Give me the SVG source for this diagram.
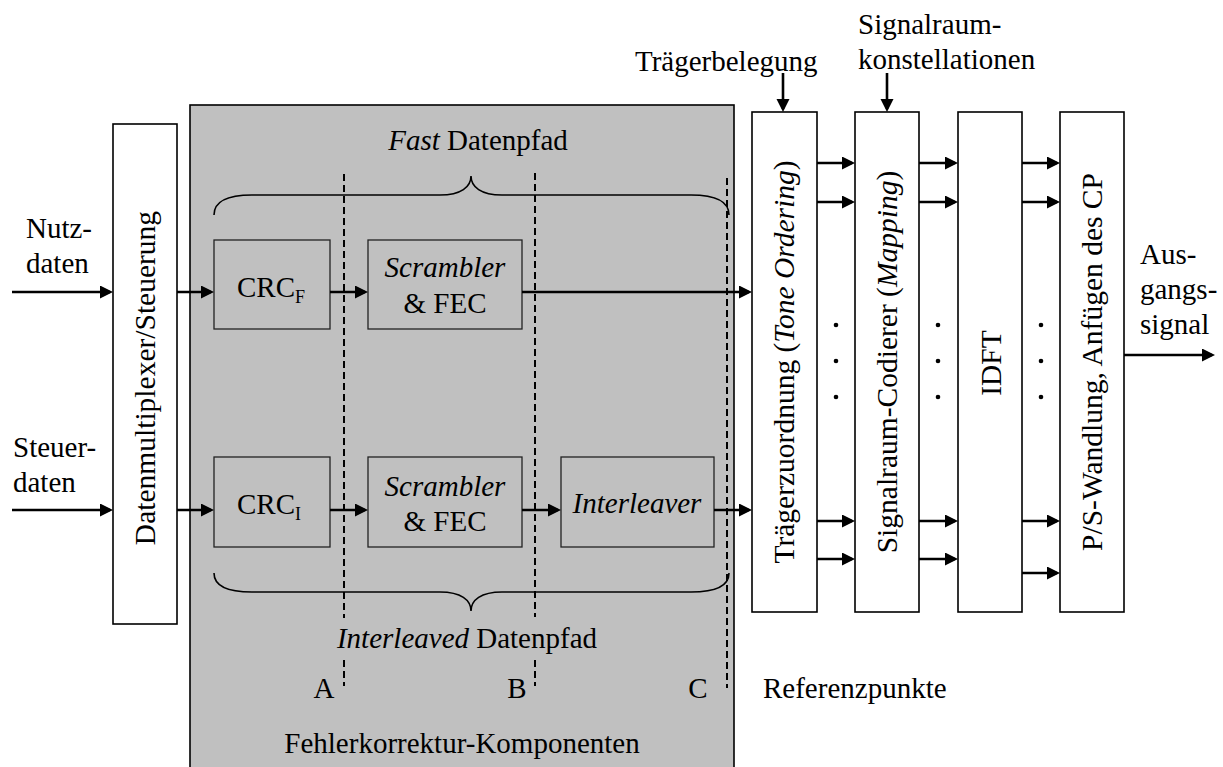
<svg xmlns="http://www.w3.org/2000/svg" width="1223" height="767" viewBox="0 0 1223 767" font-family="Liberation Serif, serif">
  <style>
    text { font-family: "Liberation Serif", serif !important; font-size: 29px; fill: #000; }
    .rot { font-size: 29.5px; text-anchor: middle; }
    .mid { text-anchor: middle; }
    .it { font-style: italic; }
    .sub { font-size: 18px; }
    .box { fill: #fff; stroke: #000; stroke-width: 1.6; }
    .gbox { fill: #c0c0c0; stroke: #222; stroke-width: 1.3; }
    .flow { fill: none; stroke: #000; stroke-width: 2.6; marker-end: url(#arrow); }
    .dash { fill: none; stroke: #000; stroke-width: 2; stroke-dasharray: 7 4; }
    .brace { fill: none; stroke: #000; stroke-width: 1.6; }
  </style>
  <defs>
    <marker id="arrow" markerUnits="userSpaceOnUse" markerWidth="14" markerHeight="14" refX="10" refY="6.5" orient="auto">
      <path d="M0,0 L13,6.5 L0,13 z" fill="#000"/>
    </marker>
  </defs>

  <rect width="1223" height="767" fill="#fff"/>

  <!-- error-correction area -->
  <g id="fec-area">
    <rect x="190" y="105" width="544" height="680" fill="#c0c0c0" stroke="#000" stroke-width="1.6"/>
    <text x="462" y="753" class="mid" style="font-family:'Liberation Serif',serif">Fehlerkorrektur-Komponenten</text>
  </g>

  <!-- input labels -->
  <g id="in-nutz">
    <text x="26" y="238" style="font-family:'Liberation Serif',serif">Nutz-</text>
    <text x="26" y="273" style="font-family:'Liberation Serif',serif">daten</text>
  </g>
  <g id="in-steuer">
    <text x="13" y="457" style="font-family:'Liberation Serif',serif">Steuer-</text>
    <text x="13" y="492" style="font-family:'Liberation Serif',serif">daten</text>
  </g>

  <g id="mux">
    <rect class="box" x="113" y="124" width="64" height="500"/>
    <text class="rot" transform="translate(155,378) rotate(-90)" style="font-family:'Liberation Serif',serif">Datenmultiplexer/Steuerung</text>
  </g>

  <g id="crc-f">
    <rect class="gbox" x="214" y="240" width="116" height="89"/>
    <text x="237" y="297" style="font-family:'Liberation Serif',serif">CRC<tspan class="sub" dy="6">F</tspan></text>
  </g>
  <g id="scr-f">
    <rect class="gbox" x="368" y="240" width="154" height="89"/>
    <text x="445" y="277" class="mid it" style="font-family:'Liberation Serif',serif">Scrambler</text>
    <text x="445" y="313" class="mid" style="font-family:'Liberation Serif',serif">&amp; FEC</text>
  </g>

  <g id="crc-i">
    <rect class="gbox" x="214" y="457" width="116" height="90"/>
    <text x="237" y="514" style="font-family:'Liberation Serif',serif">CRC<tspan class="sub" dy="6">I</tspan></text>
  </g>
  <g id="scr-i">
    <rect class="gbox" x="368" y="457" width="154" height="90"/>
    <text x="445" y="496" class="mid it" style="font-family:'Liberation Serif',serif">Scrambler</text>
    <text x="445" y="531" class="mid" style="font-family:'Liberation Serif',serif">&amp; FEC</text>
  </g>
  <g id="interleaver">
    <rect class="gbox" x="561" y="457" width="153" height="90"/>
    <text x="637" y="513" class="mid it" style="font-family:'Liberation Serif',serif">Interleaver</text>
  </g>

  <!-- path braces -->
  <g id="fast-path">
    <path class="brace" d="M214,215 C214,202 226,195 252,195 L440,195 C461,195 471,187 471,176 C471,187 481,195 502,195 L691,195 C717,195 729,202 729,215"/>
    <text x="478" y="150" class="mid" style="font-family:'Liberation Serif',serif"><tspan class="it">Fast</tspan> Datenpfad</text>
  </g>
  <g id="interleaved-path">
    <path class="brace" d="M214,573 C214,586 226,592 252,592 L440,592 C461,592 471,600 471,611 C471,600 481,592 502,592 L691,592 C717,592 729,586 729,573"/>
    <text x="467" y="648" class="mid" style="font-family:'Liberation Serif',serif"><tspan class="it">Interleaved</tspan> Datenpfad</text>
  </g>

  <!-- reference points -->
  <g id="ref-points">
    <path class="dash" d="M344,174 V618 M344,660 V686"/>
    <path class="dash" d="M535,173 V617 M535,660 V686"/>
    <path class="dash" d="M727,178 V688"/>
    <text x="324" y="698" class="mid" style="font-family:'Liberation Serif',serif">A</text>
    <text x="517" y="698" class="mid" style="font-family:'Liberation Serif',serif">B</text>
    <text x="698" y="698" class="mid" style="font-family:'Liberation Serif',serif">C</text>
    <text x="763" y="698" style="font-family:'Liberation Serif',serif">Referenzpunkte</text>
  </g>

  <!-- transmitter chain -->
  <g id="tone-ordering">
    <rect class="box" x="752" y="112" width="65" height="500"/>
    <text class="rot" transform="translate(794,362) rotate(-90)" style="font-family:'Liberation Serif',serif">Trägerzuordnung (<tspan class="it">Tone Ordering</tspan>)</text>
  </g>
  <g id="mapping">
    <rect class="box" x="855" y="112" width="64" height="500"/>
    <text class="rot" transform="translate(897,362) rotate(-90)" style="font-family:'Liberation Serif',serif">Signalraum-Codierer (<tspan class="it">Mapping</tspan>)</text>
  </g>
  <g id="idft">
    <rect class="box" x="958" y="112" width="64" height="500"/>
    <text class="rot" transform="translate(1001,363) rotate(-90)" style="font-family:'Liberation Serif',serif">IDFT</text>
  </g>
  <g id="ps">
    <rect class="box" x="1060" y="112" width="64" height="500"/>
    <text class="rot" transform="translate(1102,362) rotate(-90)" style="font-family:'Liberation Serif',serif">P/S-Wandlung, Anfügen des CP</text>
  </g>

  <g id="lbl-traeger">
    <text x="635" y="71" style="font-family:'Liberation Serif',serif">Trägerbelegung</text>
  </g>
  <g id="lbl-konst">
    <text x="858" y="34" style="font-family:'Liberation Serif',serif">Signalraum-</text>
    <text x="858" y="69" style="font-family:'Liberation Serif',serif">konstellationen</text>
  </g>
  <g id="out">
    <text x="1140" y="264" style="font-family:'Liberation Serif',serif">Aus-</text>
    <text x="1140" y="299" style="font-family:'Liberation Serif',serif">gangs-</text>
    <text x="1140" y="334" style="font-family:'Liberation Serif',serif">signal</text>
  </g>

  <!-- ellipsis dots between parallel streams -->
  <g id="dots" fill="#000">
    <circle cx="836" cy="325" r="2.3"/><circle cx="836" cy="361" r="2.3"/><circle cx="836" cy="397" r="2.3"/>
    <circle cx="938" cy="325" r="2.3"/><circle cx="938" cy="361" r="2.3"/><circle cx="938" cy="397" r="2.3"/>
    <circle cx="1041" cy="325" r="2.3"/><circle cx="1041" cy="361" r="2.3"/><circle cx="1041" cy="397" r="2.3"/>
  </g>

  <g id="connectors">
    <path class="flow" d="M12,292 H110"/>
    <path class="flow" d="M12,510 H110"/>
    <path class="flow" d="M177,292 H211"/>
    <path class="flow" d="M177,510 H211"/>
    <path class="flow" d="M330,292 H365"/>
    <path class="flow" d="M330,510 H365"/>
    <path class="flow" d="M522,292 H749"/>
    <path class="flow" d="M522,510 H558"/>
    <path class="flow" d="M714,510 H749"/>
    <path class="flow" d="M817,163 H852"/>
    <path class="flow" d="M817,202 H852"/>
    <path class="flow" d="M817,521 H852"/>
    <path class="flow" d="M817,559 H852"/>
    <path class="flow" d="M919,163 H955"/>
    <path class="flow" d="M919,202 H955"/>
    <path class="flow" d="M919,521 H955"/>
    <path class="flow" d="M919,559 H955"/>
    <path class="flow" d="M1022,163 H1057"/>
    <path class="flow" d="M1022,202 H1057"/>
    <path class="flow" d="M1022,521 H1057"/>
    <path class="flow" d="M1022,573 H1057"/>
    <path class="flow" d="M1124,355 H1212"/>
    <path class="flow" d="M783,73 V109"/>
    <path class="flow" d="M887,73 V109"/>
  </g>
</svg>
